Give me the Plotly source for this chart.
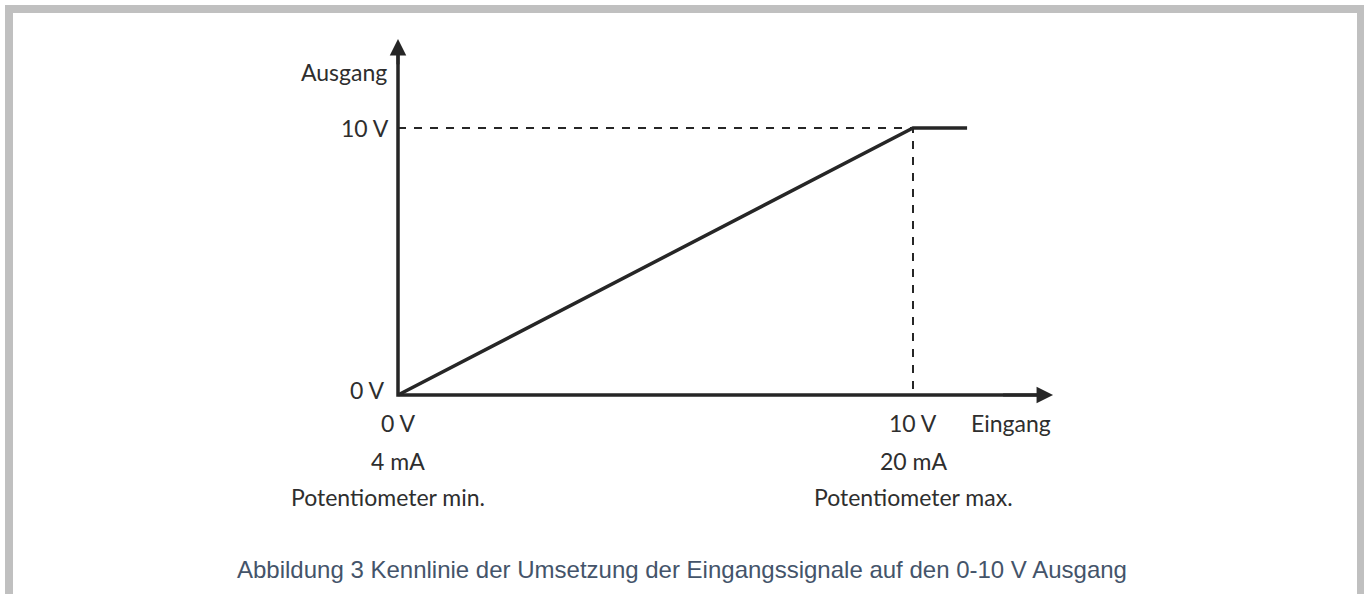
import plotly.graph_objects as go

# ---- data ----
INPUT_V = [0, 10, 11.05]          # characteristic curve, input (V)
OUTPUT_V = [0, 10, 10]            # characteristic curve, output (V)
X_AXIS_END = 12.72
Y_AXIS_END = 13.33
X_TICKS = [0, 10]
X_TICK_ROWS = [["0 V", "4 mA", "Potentiometer min."],
               ["10 V", "20 mA", "Potentiometer max."]]
Y_TICKS = [0, 10]
Y_TICK_LABELS = ["0 V", "10 V"]
X_TITLE = "Eingang"
Y_TITLE = "Ausgang"
CAPTION = "Abbildung 3 Kennlinie der Umsetzung der Eingangssignale auf den 0-10 V Ausgang"

INK = "#262626"
TXT = "#2e2e2e"
FONT = "Lato"

fig = go.Figure()

# dashed helper lines to the 10 V / 10 V point
fig.add_trace(go.Scatter(x=[0, INPUT_V[1], INPUT_V[1]], y=[OUTPUT_V[1], OUTPUT_V[1], 0],
                         mode="lines", line=dict(color=INK, width=2, dash="8px,8px"),
                         hoverinfo="skip"))
# axes lines
fig.add_trace(go.Scatter(x=[0, 0, X_AXIS_END - 0.2], y=[Y_AXIS_END - 0.4, 0, 0],
                         mode="lines", line=dict(color=INK, width=3.5), hoverinfo="skip"))
# characteristic
fig.add_trace(go.Scatter(x=INPUT_V, y=OUTPUT_V, mode="lines",
                         line=dict(color=INK, width=3.5), hoverinfo="skip"))

ann = []
# arrow heads
ann.append(dict(x=0, y=Y_AXIS_END, ax=0, ay=Y_AXIS_END - 1, xref="x", yref="y",
                axref="x", ayref="y", text="", showarrow=True, arrowhead=2,
                arrowsize=1.1, arrowwidth=3, arrowcolor=INK))
ann.append(dict(x=X_AXIS_END, y=0, ax=X_AXIS_END - 1, ay=0, xref="x", yref="y",
                axref="x", ayref="y", text="", showarrow=True, arrowhead=2,
                arrowsize=1.1, arrowwidth=3, arrowcolor=INK))

lab_font = dict(family=FONT, size=23, color=TXT)
# x tick labels
row_shift = [-28, -66, -102]
row_xshift = [[0, 0, -10], [0, 0, 0]]
for k, (xv, rows) in enumerate(zip(X_TICKS, X_TICK_ROWS)):
    for i, t in enumerate(rows):
        ann.append(dict(x=xv, y=0, xref="x", yref="y", text=t, showarrow=False,
                        xanchor="center", yanchor="middle", yshift=row_shift[i],
                        xshift=row_xshift[k][i], font=lab_font))
# y tick labels
for yv, t in zip(Y_TICKS, Y_TICK_LABELS):
    ann.append(dict(x=0, y=yv, xref="x", yref="y", text=t, showarrow=False,
                    xanchor="right", yanchor="middle", xshift=-7 if yv else -12,
                    yshift=0 if yv else 5, font=lab_font))
# axis titles
ann.append(dict(x=0, y=Y_AXIS_END, xref="x", yref="y", text=Y_TITLE, showarrow=False,
                xanchor="right", yanchor="middle", xshift=-9, yshift=-33, font=lab_font))
ann.append(dict(x=X_AXIS_END, y=0, xref="x", yref="y", text=X_TITLE, showarrow=False,
                xanchor="right", yanchor="middle", yshift=-28, font=lab_font))
# caption
ann.append(dict(x=0.5, y=(594 - 569) / 594, xref="paper", yref="paper", text=CAPTION,
                showarrow=False, xanchor="center", yanchor="middle",
                font=dict(family="Liberation Sans", size=24, color="#44546A")))

W, H = 1364, 594
x0px, y0px, sx, sy = 398, 395, 51.5, 26.7
fig.update_layout(
    width=W, height=H, margin=dict(l=0, r=0, t=0, b=0, pad=0),
    paper_bgcolor="white", plot_bgcolor="white", showlegend=False,
    xaxis=dict(range=[-x0px / sx, (W - x0px) / sx], visible=False, fixedrange=True),
    yaxis=dict(range=[(y0px - H) / sy, y0px / sy], visible=False, fixedrange=True),
    annotations=ann,
    shapes=[dict(type="rect", xref="paper", yref="paper",
                 x0=9 / W, x1=1361 / W, y0=-0.05, y1=(H - 9) / H,
                 line=dict(color="#C0C0C0", width=8), fillcolor="rgba(0,0,0,0)")],
)

fig.write_html("out.html", config={"displayModeBar": False},
               post_script="document.body.style.margin='0';document.body.style.overflow='hidden';")
